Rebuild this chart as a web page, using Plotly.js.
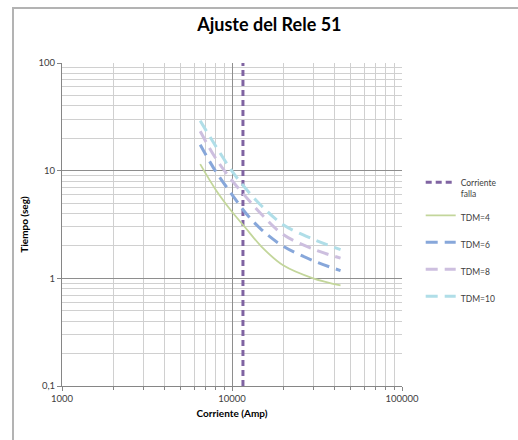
<!DOCTYPE html>
<html>
<head>
<meta charset="utf-8">
<script src="https://cdn.plot.ly/plotly-3.0.1.min.js"></script>
<style>
html,body{margin:0;padding:0;width:518px;height:440px;overflow:hidden;background:#fff;}
#chart{position:absolute;left:0;top:0;width:518px;height:440px;}
#frame{position:absolute;left:12px;top:7px;width:600px;height:600px;border-left:2px solid #B3B3B3;border-top:2px solid #B3B3B3;pointer-events:none;}
</style>
</head>
<body>
<div id="chart"></div>
<div id="frame"></div>
<script>
// Data
const corriente = [6500, 8000, 10000, 12000, 15000, 20000, 30000, 43500];
const tdm4  = [11.5, 6.7, 4.15, 2.95, 1.95, 1.32, 1.0, 0.86];
const tdm6  = [17.4, 9.9, 6.0, 4.07, 2.81, 1.99, 1.46, 1.18];
const tdm8  = [23.2, 13.1, 8.1, 5.77, 3.89, 2.55, 1.87, 1.54];
const tdm10 = [29.1, 17.0, 9.9, 6.86, 4.67, 3.15, 2.31, 1.85];
const fallaX = [11600, 11600];
const fallaY = [0.1, 100];
const xTickVals = [1000, 10000, 100000];
const xTickText = ['1000', '10000', '100000'];
const yTickVals = [0.1, 1, 10, 100];
const yTickText = ['0,1', '1', '10', '100'];

// minor gridline positions (2..9 within each decade)
function minorVals(startExp, endExp) {
  const v = [];
  for (let e = startExp; e < endExp; e++) {
    for (let m = 2; m <= 9; m++) v.push(m * Math.pow(10, e));
  }
  return v;
}

const traces = [
  {x: fallaX, y: fallaY, name: 'Corriente<br>falla', mode: 'lines', legendgroup: 'a',
   line: {color: '#8064A2', width: 3, dash: '6px,4px'}},
  {x: corriente, y: tdm4, name: 'TDM=4', mode: 'lines', legendgroup: 'b',
   line: {color: '#C3D69B', width: 1.8, shape: 'spline'}},
  {x: corriente, y: tdm6, name: 'TDM=6', mode: 'lines', legendgroup: 'c',
   line: {color: '#87A7DA', width: 3, dash: '12px,7px', shape: 'spline'}},
  {x: corriente, y: tdm8, name: 'TDM=8', mode: 'lines', legendgroup: 'd',
   line: {color: '#CDBFDF', width: 3, dash: '12px,7px', shape: 'spline'}},
  {x: corriente, y: tdm10, name: 'TDM=10', mode: 'lines', legendgroup: 'e',
   line: {color: '#B0DEE8', width: 3, dash: '12px,7px', shape: 'spline'}}
];

const layout = {
  width: 518, height: 440,
  margin: {l: 62, r: 116, t: 63, b: 54},
  paper_bgcolor: '#fff', plot_bgcolor: '#fff',
  font: {family: 'Lato, "Open Sans", sans-serif', color: '#404040'},
  title: {text: '<b>Ajuste del Rele 51</b>', x: 0.52, xanchor: 'center', y: 0.943, yanchor: 'middle',
          font: {size: 18, color: '#000', family: 'Lato, "Open Sans", sans-serif'}},
  xaxis: {type: 'log', range: [3, 5], tickmode: 'array', tickvals: xTickVals, ticktext: xTickText,
          ticks: 'outside', ticklen: 4, tickcolor: '#868686',
          showline: true, linecolor: '#868686', linewidth: 1,
          showgrid: true, gridcolor: '#8E8E8E', gridwidth: 1,
          minor: {tickmode: 'array', tickvals: minorVals(3, 5), showgrid: true, gridcolor: '#D0D0D0', gridwidth: 1,
                  ticks: 'outside', ticklen: 3, tickcolor: '#868686'},
          zeroline: false,
          tickfont: {size: 9.5, color: '#404040', family: 'Lato, "Open Sans", sans-serif'},
          title: {text: '<b>Corriente (Amp)</b>', standoff: 6, font: {size: 10, color: '#000'}}},
  yaxis: {type: 'log', range: [-1, 2], tickmode: 'array', tickvals: yTickVals, ticktext: yTickText,
          ticks: 'outside', ticklen: 4, tickcolor: '#868686',
          showline: true, linecolor: '#868686', linewidth: 1,
          showgrid: true, gridcolor: '#8E8E8E', gridwidth: 1,
          minor: {tickmode: 'array', tickvals: minorVals(-1, 2), showgrid: true, gridcolor: '#D0D0D0', gridwidth: 1},
          zeroline: false,
          tickfont: {size: 9.5, color: '#404040', family: 'Lato, "Open Sans", sans-serif'},
          title: {text: '<b>Tiempo (seg)</b>', standoff: 8, font: {size: 10, color: '#000'}}},
  showlegend: true,
  legend: {x: 1.055, xanchor: 'left', y: 0.668, yanchor: 'top', valign: 'top',
           traceorder: 'grouped', tracegroupgap: 8,
           font: {size: 8.5, color: '#404040'}, bgcolor: 'rgba(0,0,0,0)'}
};

Plotly.newPlot('chart', traces, layout, {displayModeBar: false, staticPlot: true});
</script>
</body>
</html>
